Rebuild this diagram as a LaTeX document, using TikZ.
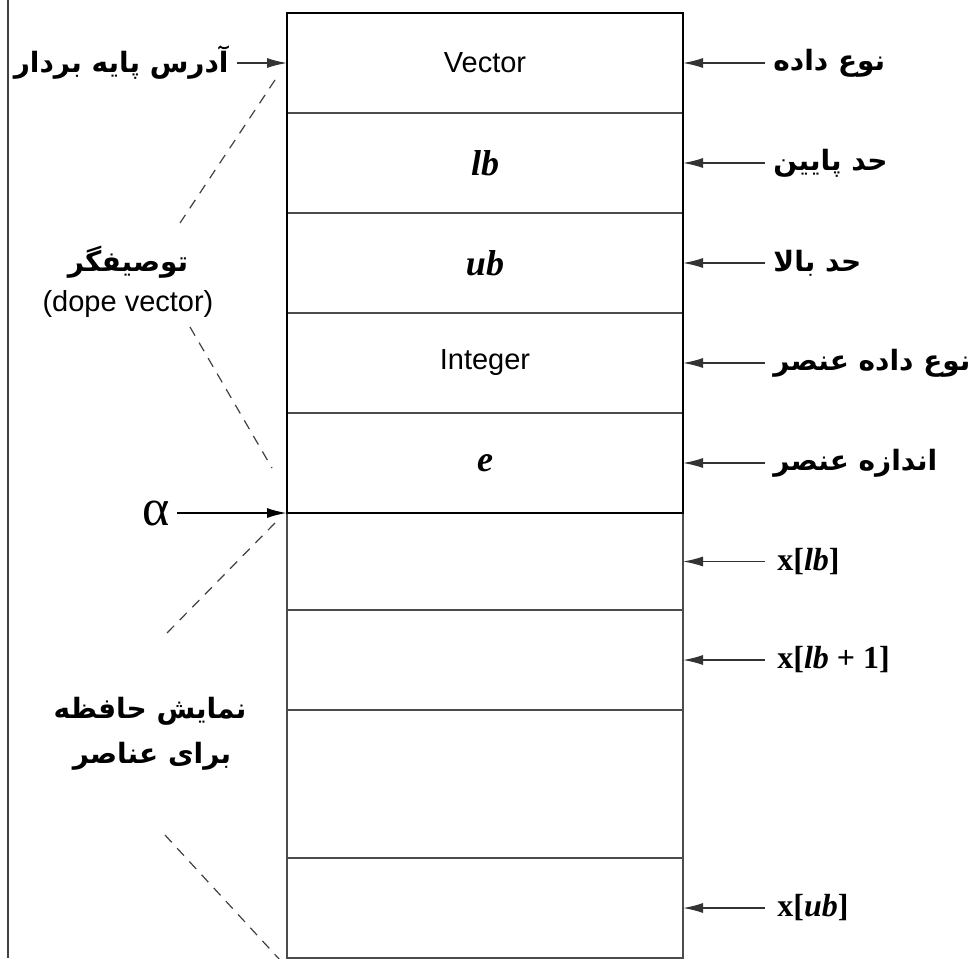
\documentclass[tikz,border=0pt]{standalone}
\usepackage{fontspec}
\setmainfont{Liberation Serif}
\setsansfont{Liberation Sans}
\newfontfamily\arabicfont[Script=Arabic]{DejaVu Sans}
\TeXXeTstate=1
\usetikzlibrary{arrows.meta, positioning}
\newcommand{\fatext}[1]{{\arabicfont\bfseries\beginR #1\endR}}
\tikzset{%
   cell/.style={
      draw=black!70,
      line width=.7pt,
      minimum width=198pt,
      inner sep=0pt,
      outer sep=0pt
   },
   dcell/.style={cell, minimum height=50pt},
   ptr/.style={
      -{Latex[length=10pt,width=5pt]},
      line width=.7pt,
      draw=black!80
   },
   fa/.style={font=\fontsize{14}{17}\selectfont, inner xsep=4pt, inner ysep=2pt},
   lat/.style={font=\sffamily\fontsize{14.5}{17}\selectfont},
   var/.style={font=\bfseries\itshape\fontsize{18}{20}\selectfont},
   idx/.style={font=\bfseries\fontsize{16}{19}\selectfont, inner xsep=6pt, inner ysep=2pt},
   guide/.style={dash pattern=on 5pt off 4pt, line width=.6pt, draw=black!75},
}
\begin{document}
\begin{tikzpicture}[x=.5pt, y=-.5pt]
    \useasboundingbox (0,0) rectangle (968,958);
    \draw[line width=1pt, black!75] (8,0) -- (8,958);
    % descriptor
    \node[dcell, lat] (vec) at (485,63) {Vector};
    \node[dcell, var, below=0pt of vec] (lb) {lb};
    \node[dcell, var, below=0pt of lb] (ub) {ub};
    \node[dcell, lat, below=0pt of ub] (int) {Integer};
    \node[dcell, var, below=0pt of int] (e) {e};
    % elements
    \node[cell, minimum height=48.5pt, below=0pt of e] (x0) {};
    \node[cell, minimum height=50pt, below=0pt of x0] (x1) {};
    \node[cell, minimum height=74pt, below=0pt of x1] (x2) {};
    \node[cell, minimum height=50pt, below=0pt of x2] (xn) {};
    \draw[line width=1.1pt] (vec.north west) rectangle (e.south east);
    % right labels
    \node[fa, right=41pt of vec] (tvec) {\fatext{نوع داده}};
    \node[fa, right=41pt of lb] (tlb) {\fatext{حد پایین}};
    \node[fa, right=41pt of ub] (tub) {\fatext{حد بالا}};
    \node[fa, right=41pt of int] (tint) {\fatext{نوع داده عنصر}};
    \node[fa, right=41pt of e] (te) {\fatext{اندازه عنصر}};
    \node[idx, right=41pt of x0] (tx0) {x[\textit{lb}]};
    \node[idx, right=41pt of x1] (tx1) {x[\textit{lb} + 1]};
    \node[idx, right=41pt of xn] (txn) {x[\textit{ub}]};
    \foreach \a/\b in {tvec/vec, tlb/lb, tub/ub, tint/int, te/e, tx0/x0, tx1/x1, txn/xn}
        \draw[ptr] (\a) -- (\b.east);
    % left labels
    \node[fa, left=25pt of vec] (base) {\fatext{آدرس پایه بردار}};
    \draw[ptr] (base) -- (vec.west);
    \node[font=\fontsize{26}{28}\selectfont, left=55pt of e.south west] (alpha) {α};
    \draw[ptr, line width=1pt, black] (alpha) -- (e.south west);
    \node[fa] (desc) at (128,262) {\fatext{توصیفگر}};
    \node[lat] (dope) at (128,304) {(dope vector)};
    \node[fa] (mem1) at (150,711) {\fatext{نمایش حافظه}};
    \node[fa] (mem2) at (152,756) {\fatext{برای عناصر}};
    % dashed guides
    \coordinate (g1a) at (275,80);
    \coordinate (g1b) at (180,223);
    \coordinate (g2a) at (190,327);
    \coordinate (g2b) at (272,468);
    \coordinate (g3a) at (275,523);
    \coordinate (g3b) at (165,635);
    \coordinate (g4a) at (165,835);
    \coordinate (g4b) at (280,960);
    \draw[guide] (g1a) -- (g1b);
    \draw[guide] (g2a) -- (g2b);
    \draw[guide] (g3a) -- (g3b);
    \draw[guide] (g4a) -- (g4b);
\end{tikzpicture}
\end{document}
